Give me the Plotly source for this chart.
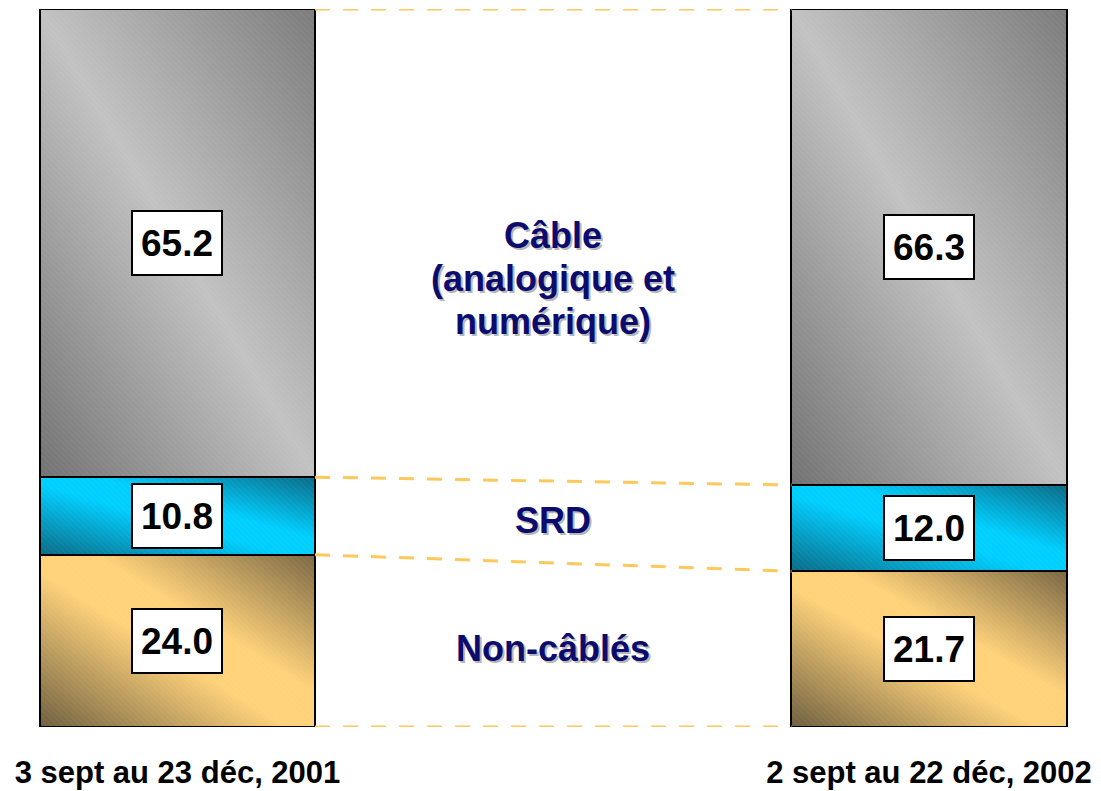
import base64
import plotly.graph_objects as go

# ---- data ----
periods = ["3 sept au 23 déc, 2001", "2 sept au 22 déc, 2002"]
series_names = ["Non-câblés", "SRD", "Câble (analogique et numérique)"]
non_cables = [24.0, 21.7]
srd = [10.8, 12.0]
cable = [65.2, 66.3]
center_labels = [["Non-câblés"], ["SRD"], ["Câble", "(analogique et", "numérique)"]]
center_label_y = [11.0, 28.8, 62.5]  # positions of the middle captions (data units)

# ---- styling ----
gradients = [
    [("0", "#6e5f3f"), ("0.45", "#ffd27a"), ("0.6", "#ffd27a"), ("1", "#7a6743")],
    [("0", "#0a6a86"), ("0.45", "#00cfff"), ("0.6", "#00cfff"), ("1", "#0a6a86")],
    [("0", "#727272"), ("0.5", "#c2c2c2"), ("1", "#7c7c7c")],
]
bar_w = 0.366
x_pos = [0, 1]
FONT = "Liberation Sans, Arial"


def grad_uri(stops):
    st = "".join(f'<stop offset="{o}" stop-color="{c}"/>' for o, c in stops)
    svg = (
        '<svg xmlns="http://www.w3.org/2000/svg" width="100" height="100" preserveAspectRatio="none">'
        f'<defs><linearGradient id="g" x1="0" y1="1" x2="1" y2="0">{st}</linearGradient></defs>'
        '<rect x="0" y="0" width="100" height="100" fill="url(#g)"/></svg>'
    )
    return "data:image/svg+xml;base64," + base64.b64encode(svg.encode()).decode()


values = [non_cables, srd, cable]
fig = go.Figure()
images = []
for s, (name, vals) in enumerate(zip(series_names, values)):
    fig.add_trace(go.Bar(
        x=x_pos, y=vals, name=name, width=bar_w,
        marker=dict(color="rgba(0,0,0,0)", line=dict(color="black", width=2),
                    pattern=dict(shape="\\", size=4, solidity=0.2,
                                 fgcolor="rgba(255,255,255,0.16)", bgcolor="rgba(0,0,0,0)")),
        hoverinfo="skip", showlegend=False,
    ))
    for i, xp in enumerate(x_pos):
        base = sum(values[k][i] for k in range(s))
        images.append(dict(
            source=grad_uri(gradients[s]), xref="x", yref="y",
            x=xp - bar_w / 2, y=base + vals[i], sizex=bar_w, sizey=vals[i],
            xanchor="left", yanchor="top", sizing="stretch", layer="below",
        ))
        fig.add_annotation(
            x=xp, y=base + vals[i] / 2, text=f"{vals[i]:.1f}", showarrow=False,
            font=dict(family=FONT, size=37, color="black", weight="bold"),
            bgcolor="white", bordercolor="black", borderwidth=2, borderpad=6,
            width=76, height=50,
        )

# dashed connectors between the bars at each stacked boundary
levels_left = [0, non_cables[0], non_cables[0] + srd[0], non_cables[0] + srd[0] + cable[0]]
levels_right = [0, non_cables[1], non_cables[1] + srd[1], non_cables[1] + srd[1] + cable[1]]
for yl, yr in zip(levels_left, levels_right):
    fig.add_trace(go.Scatter(
        x=[x_pos[0] + bar_w / 2, x_pos[1] - bar_w / 2], y=[yl, yr], mode="lines",
        line=dict(color="#ffc85a", width=3, dash="15px,13px"),
        hoverinfo="skip", showlegend=False,
    ))

# middle captions with a light shadow, one annotation per line
line_gap = 43
for lines, yv in zip(center_labels, center_label_y):
    n = len(lines)
    for j, txt in enumerate(lines):
        off = ((n - 1) / 2 - j) * line_gap
        for col, dx, dy in [("rgba(120,120,120,0.55)", 2, -2), ("#0c0c6e", 0, 0)]:
            fig.add_annotation(
                x=0.5, y=yv, text=txt, showarrow=False, xshift=dx, yshift=off + dy,
                font=dict(family=FONT, size=36, color=col, weight="bold"),
                align="center",
            )

# the page adds an 8px body margin, so the figure is 8px smaller than the window
fig.update_layout(
    width=1093, height=783,
    margin=dict(l=0, r=0, t=1, b=64, autoexpand=False),
    paper_bgcolor="white", plot_bgcolor="white",
    barmode="stack", images=images,
    xaxis=dict(range=[-0.2255, 1.2289], tickvals=x_pos, ticktext=periods,
               showgrid=False, zeroline=False, showline=False, ticks="",
               automargin=False, ticklabelstandoff=24,
               tickfont=dict(family=FONT, size=31, color="black", weight="bold")),
    yaxis=dict(range=[0, 100], visible=False, showgrid=False, zeroline=False,
               automargin=False),
)

fig.write_html("out.html")
